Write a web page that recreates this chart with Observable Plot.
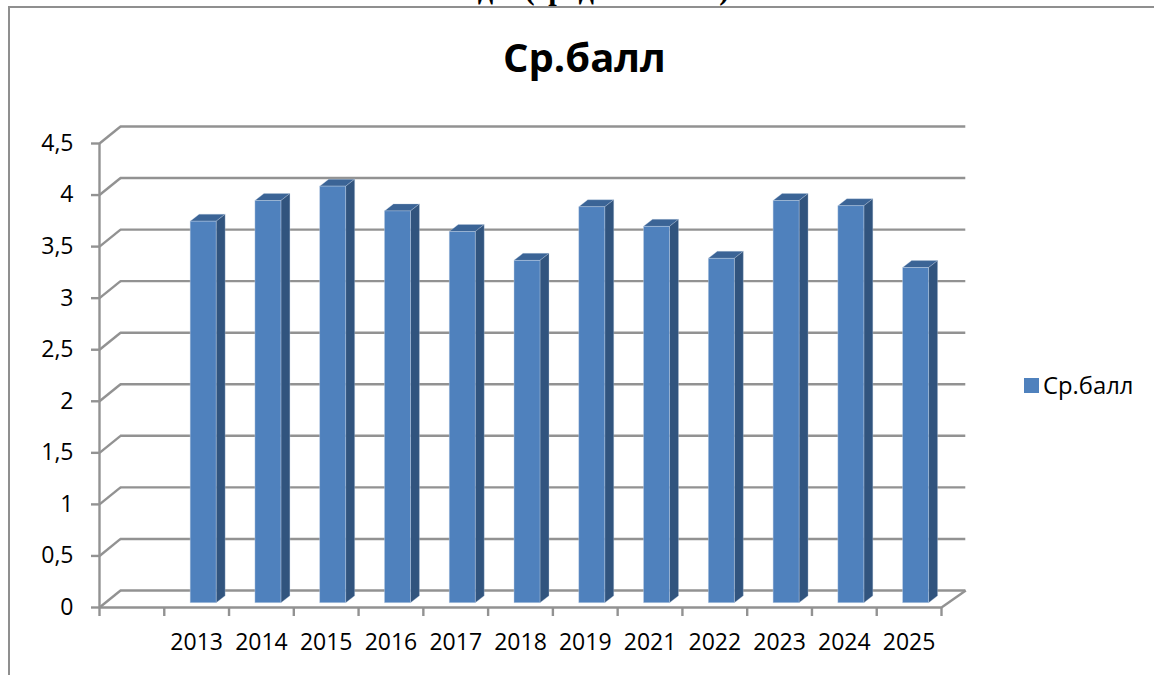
<!DOCTYPE html>
<html><head><meta charset="utf-8">
<script src="https://cdn.jsdelivr.net/npm/d3@7"></script>
<script src="https://cdn.jsdelivr.net/npm/@observablehq/plot@0.6"></script>
<style>
html,body{margin:0;padding:0;background:#fff;overflow:hidden}
#page{position:relative;width:1154px;height:675px;overflow:hidden}
#frame{position:absolute;left:8px;top:6px;width:1150px;height:675px;border-left:2px solid #8f8f8f;border-top:2px solid #8f8f8f;box-sizing:border-box}
#above{position:absolute;left:11px;width:1154px;text-align:center;top:-25px;font:bold 30.5px "Liberation Serif";line-height:28px;color:#000;white-space:nowrap}
#title{position:absolute;left:384.5px;width:400px;text-align:center;top:30px;font:bold 40px "Open Sans";line-height:54px;color:#000}
#legend{position:absolute;left:1024px;top:371px;font:23.8px "Open Sans";line-height:28px;color:#000;display:flex;align-items:center;white-space:nowrap}
#legend i{display:block;width:15px;height:15px;background:#4f81bd;margin-right:4px}
svg{position:absolute;left:0;top:0}
</style></head><body>
<div id="page"><div id="above"></div><div id="frame"></div><div id="title"></div><div id="legend"><i></i><span></span></div></div>
<script>
const heading = "Годы (средний балл)";
const chartTitle = "Ср.балл";
const years = ["2013","2014","2015","2016","2017","2018","2019","2021","2022","2023","2024","2025"];
const values = [3.7,3.9,4.04,3.8,3.6,3.32,3.84,3.65,3.34,3.9,3.85,3.25];
const yTicks = [0,0.5,1,1.5,2,2.5,3,3.5,4,4.5];
const xTicks = [0,1,2,3,4,5,6,7,8,9,10,11,12,13];

const gridColor = "#929292", front = "#4f81bd", side = "#31547e", topFace = "#3b6496";
const wallX = 0.325, wallY = 0.165;   // depth of the 3D back wall, in data units
const barInset = 19.4, barDx = 7, barDy = -4.3, depthDx = 9, depthDy = -7; // bar placement and extrusion, px
const lineW = 2.4;

document.getElementById("above").textContent = heading;
document.getElementById("title").textContent = chartTitle;
document.querySelector("#legend span").textContent = chartTitle;

const rows = years.map((year,i)=>({year, value:values[i], band:i+1}));
const comma = d => String(d).replace(".",",");

// The mark's group already carries the dx/dy translation, so faces are drawn in its local coordinates.
function extrude(index, scales, ch, dims, ctx, next){
  const g = next(index, scales, ch, dims, ctx);
  const sel = d3.select(g);
  for(const i of index){
    const L = ch.x1[i] + barInset, R = ch.x2[i] - barInset;
    const T = ch.y2[i], B = ch.y1[i];
    sel.insert("path",":first-child").attr("fill",side).attr("stroke","#bccde2").attr("stroke-opacity",.45).attr("stroke-width",.7)
      .attr("d",`M${R},${T}L${R+depthDx},${T+depthDy}L${R+depthDx},${B+depthDy}L${R},${B}Z`);
    sel.insert("path",":first-child").attr("fill",topFace).attr("stroke","#bccde2").attr("stroke-opacity",.45).attr("stroke-width",.7)
      .attr("d",`M${L},${T}L${L+depthDx},${T+depthDy}L${R+depthDx},${T+depthDy}L${R},${T}Z`);
  }
  return g;
}

const chart = Plot.plot({
  width:1154, height:675,
  marginLeft:99, marginRight:213, marginTop:143, marginBottom:68,
  style:{background:"transparent", fontFamily:"Open Sans", fontSize:"23px", color:"#000", overflow:"visible"},
  x:{domain:[0,13], axis:null},
  y:{domain:[0,4.5], axis:null},
  marks:[
    Plot.ruleY(yTicks,{y:d=>d+wallY, x1:wallX, x2:13+wallX+0.05, stroke:gridColor, strokeWidth:lineW}),
    Plot.link(yTicks,{x1:0, x2:wallX, y1:d=>d, y2:d=>d+wallY, stroke:gridColor, strokeWidth:lineW}),
    Plot.link([0],{x1:13, x2:13+wallX+0.05, y1:0, y2:wallY, stroke:gridColor, strokeWidth:lineW}),
    Plot.ruleX([0],{y1:0, y2:4.5, stroke:gridColor, strokeWidth:lineW}),
    Plot.ruleY([0],{x1:0, x2:13, stroke:gridColor, strokeWidth:lineW}),
    Plot.axisY({ticks:yTicks, tickSize:8, tickPadding:18, tickFormat:comma, stroke:gridColor, strokeWidth:lineW, label:null, color:"#000", fill:"#000"}),
    Plot.axisX({ticks:xTicks, tickSize:9, tickFormat:()=>"", stroke:gridColor, strokeWidth:lineW, label:null}),
    Plot.text(years,{x:(d,i)=>i+1.5, frameAnchor:"bottom", dy:35, text:d=>d, fill:"#000", fontSize:23, lineAnchor:"middle"}),
    Plot.rectY(rows,{x1:"band", x2:d=>d.band+1, y1:0, y2:"value", fill:front, stroke:"#bccde2", strokeOpacity:.6, strokeWidth:.7,
      insetLeft:barInset, insetRight:barInset, dx:barDx, dy:barDy, render:extrude})
  ]
});
document.getElementById("page").appendChild(chart);
</script>
</body></html>
